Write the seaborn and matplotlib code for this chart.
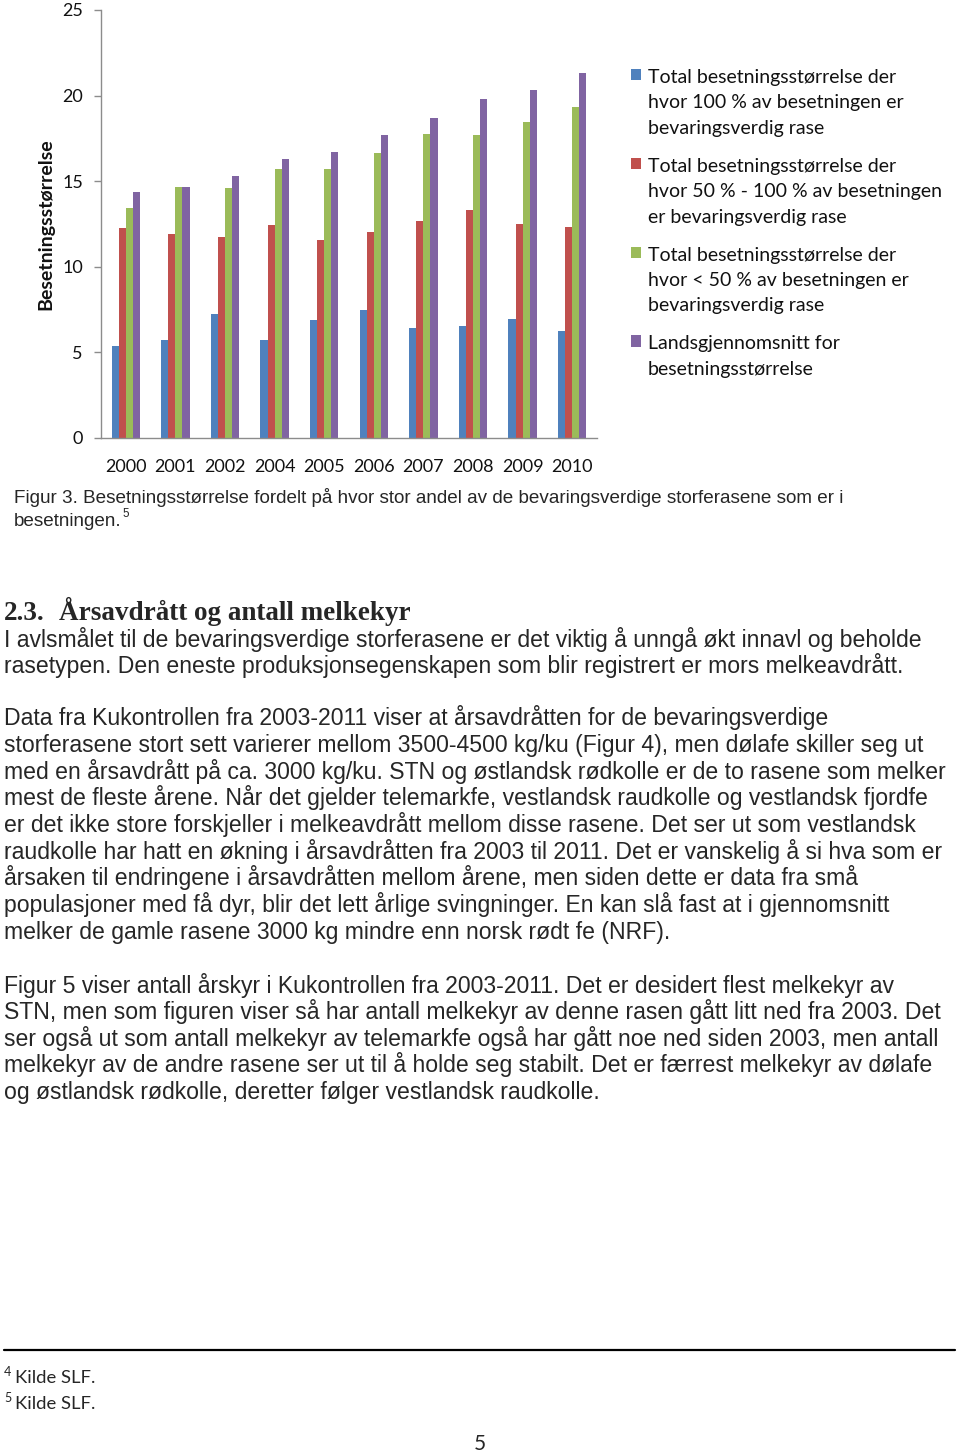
import matplotlib
matplotlib.use("Agg")
import matplotlib.pyplot as plt
import pandas as pd
import seaborn as sns
from matplotlib.lines import Line2D

W, H = 960, 1452

YEARS = ["2000", "2001", "2002", "2004", "2005", "2006", "2007", "2008", "2009", "2010"]
FULL = [5.35, 5.74, 7.24, 5.70, 6.91, 7.47, 6.42, 6.52, 6.95, 6.23]
HALF = [12.26, 11.91, 11.73, 12.45, 11.56, 12.02, 12.68, 13.33, 12.49, 12.33]
LESS = [13.46, 14.69, 14.59, 15.70, 15.74, 16.65, 17.74, 17.68, 18.48, 19.32]
NATIONAL = [14.38, 14.69, 15.31, 16.28, 16.69, 17.68, 18.70, 19.81, 20.31, 21.30]

SERIES = [
    "Total besetningsstørrelse der\nhvor 100 % av besetningen er\nbevaringsverdig rase",
    "Total besetningsstørrelse der\nhvor 50 % - 100 % av besetningen\ner bevaringsverdig rase",
    "Total besetningsstørrelse der\nhvor < 50 % av besetningen er\nbevaringsverdig rase",
    "Landsgjennomsnitt for\nbesetningsstørrelse",
]
COLORS = ["#4F81BD", "#C0504D", "#9BBB59", "#8064A2"]

CAPTION = [
    "Figur 3. Besetningsstørrelse fordelt på hvor stor andel av de bevaringsverdige storferasene som er i",
    "besetningen.",
]
HEADING_NO = "2.3."
HEADING = "Årsavdrått og antall melkekyr"
PARA1 = [
    "I avlsmålet til de bevaringsverdige storferasene er det viktig å unngå økt innavl og beholde",
    "rasetypen. Den eneste produksjonsegenskapen som blir registrert er mors melkeavdrått.",
]
PARA2 = [
    "Data fra Kukontrollen fra 2003-2011 viser at årsavdråtten for de bevaringsverdige",
    "storferasene stort sett varierer mellom 3500-4500 kg/ku (Figur 4), men dølafe skiller seg ut",
    "med en årsavdrått på ca. 3000 kg/ku. STN og østlandsk rødkolle er de to rasene som melker",
    "mest de fleste årene. Når det gjelder telemarkfe, vestlandsk raudkolle og vestlandsk fjordfe",
    "er det ikke store forskjeller i melkeavdrått mellom disse rasene. Det ser ut som vestlandsk",
    "raudkolle har hatt en økning i årsavdråtten fra 2003 til 2011. Det er vanskelig å si hva som er",
    "årsaken til endringene i årsavdråtten mellom årene, men siden dette er data fra små",
    "populasjoner med få dyr, blir det lett årlige svingninger. En kan slå fast at i gjennomsnitt",
    "melker de gamle rasene 3000 kg mindre enn norsk rødt fe (NRF).",
]
PARA3 = [
    "Figur 5 viser antall årskyr i Kukontrollen fra 2003-2011. Det er desidert flest melkekyr av",
    "STN, men som figuren viser så har antall melkekyr av denne rasen gått litt ned fra 2003. Det",
    "ser også ut som antall melkekyr av telemarkfe også har gått noe ned siden 2003, men antall",
    "melkekyr av de andre rasene ser ut til å holde seg stabilt. Det er færrest melkekyr av dølafe",
    "og østlandsk rødkolle, deretter følger vestlandsk raudkolle.",
]
FOOTNOTES = [("4", "Kilde SLF."), ("5", "Kilde SLF.")]
PAGE = "5"

CHART_FONT = "Lato"
BODY_FONT = "Liberation Sans"
HEAD_FONT = "Liberation Serif"


def fx(x):
    return x / W


def fy(y):
    return 1 - y / H


def fit_size(fig, text, target, family, weight="normal"):
    t = fig.text(0, 0, text, fontsize=10, family=family, weight=weight)
    w = t.get_window_extent(renderer=fig.canvas.get_renderer()).width
    t.remove()
    return 10 * target / w


sns.set_style("white")
plt.rcParams["font.family"] = [CHART_FONT, "DejaVu Sans"]

fig = plt.figure(figsize=(W / 100, H / 100), dpi=100)

# chart
df = pd.DataFrame({
    "year": YEARS * 4,
    "series": [s for s in SERIES for _ in YEARS],
    "value": FULL + HALF + LESS + NATIONAL,
})

ax = fig.add_axes([fx(101), fy(438), (597 - 101) / W, (438 - 10) / H])
sns.barplot(data=df, x="year", y="value", hue="series", hue_order=SERIES,
            palette=COLORS, width=0.57, saturation=1, linewidth=0, ax=ax)
handles, labels = ax.get_legend_handles_labels()
ax.get_legend().remove()

ax.set_ylim(0, 25)
ax.set_yticks([0, 5, 10, 15, 20, 25])
ax.set_xlabel("")
ax.set_ylabel("Besetningsstørrelse", fontsize=14, fontweight="bold", color="#111111")
ax.yaxis.set_label_coords(-0.095, 0.5)
for side in ["top", "right"]:
    ax.spines[side].set_visible(False)
for side in ["left", "bottom"]:
    ax.spines[side].set_color("#8c8c8c")
    ax.spines[side].set_linewidth(1)
ax.tick_params(axis="y", length=5, width=1, color="#8c8c8c", pad=8,
               labelsize=13, labelcolor="#111111", left=True)
ax.tick_params(axis="x", length=0, pad=15, labelsize=13, labelcolor="#111111")

leg = fig.legend(handles, labels, loc="upper left", alignment="left",
                 bbox_to_anchor=(fx(631), fy(69)), bbox_transform=fig.transFigure,
                 frameon=False, fontsize=14, handlelength=0.52, handleheight=0.52,
                 handletextpad=0.36, labelspacing=1.08, borderpad=0, borderaxespad=0)
for t in leg.get_texts():
    t.set_linespacing(1.6)
    t.set_color("#111111")
for col in leg._legend_handle_box.get_children():
    for hp in col.get_children():
        hp.align = "top"

# caption
cap_size = fit_size(fig, CAPTION[0], 834, BODY_FONT)
fig.text(fx(14), fy(503), CAPTION[0], fontsize=cap_size, family=BODY_FONT, va="baseline")
fig.text(fx(14), fy(526), CAPTION[1], fontsize=cap_size, family=BODY_FONT, va="baseline")
fig.text(fx(122), fy(517), "5", fontsize=cap_size * 0.62, family=BODY_FONT, va="baseline")

# heading
head_size = fit_size(fig, HEADING, 353, HEAD_FONT, "bold")
fig.text(fx(4), fy(620), HEADING_NO, fontsize=head_size, family=HEAD_FONT,
         weight="bold", va="baseline")
fig.text(fx(59), fy(620), HEADING, fontsize=head_size, family=HEAD_FONT,
         weight="bold", va="baseline")

# body text
body_size = fit_size(fig, PARA1[0], 921, BODY_FONT)
for lines, y0 in [(PARA1, 646.5), (PARA2, 725.5), (PARA3, 992.5)]:
    for i, line in enumerate(lines):
        fig.text(fx(4), fy(y0 + i * 26.65), line, fontsize=body_size,
                 family=BODY_FONT, va="baseline")

# footnotes
fig.add_artist(Line2D([fx(4), fx(955)], [fy(1350), fy(1350)], color="black", lw=1.6))
for i, (num, note) in enumerate(FOOTNOTES):
    y = 1383 + i * 26
    fig.text(fx(4), fy(y - 7), num, fontsize=9, family=CHART_FONT, va="baseline")
    fig.text(fx(15), fy(y), note, fontsize=13.3, family=CHART_FONT, va="baseline")
fig.text(fx(480), fy(1450), PAGE, fontsize=15, family=CHART_FONT, ha="center", va="baseline")

fig.savefig("out.png", dpi=100)
